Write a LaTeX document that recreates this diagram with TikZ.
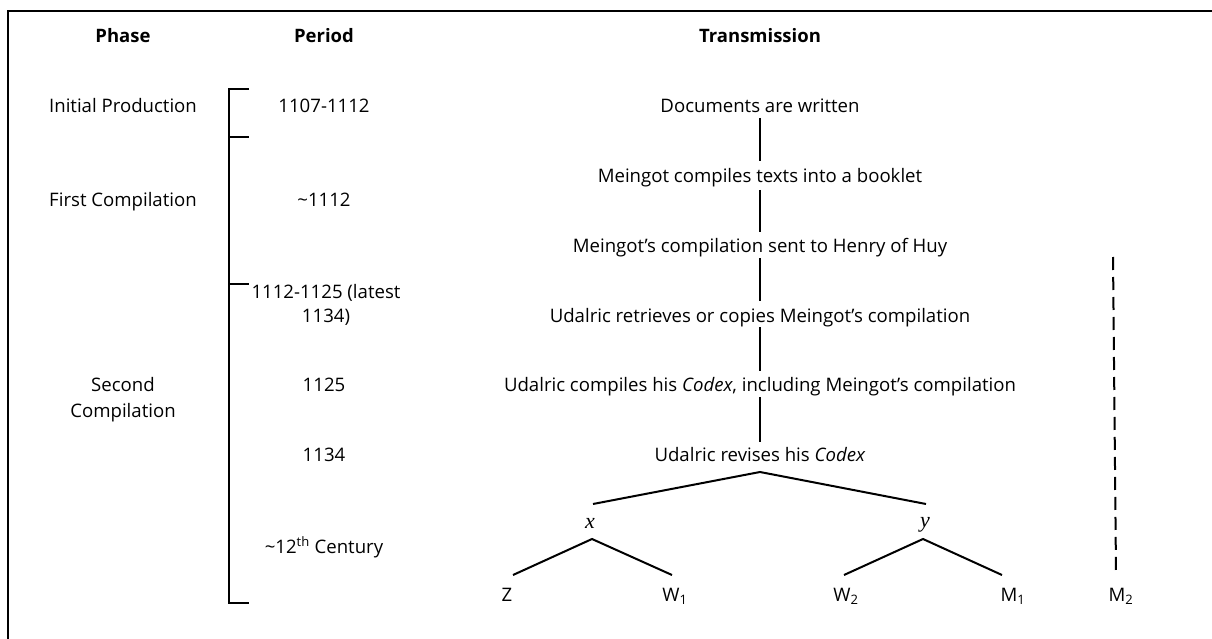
\documentclass[tikz,border=0pt]{standalone}
\usepackage{fontspec}
\setmainfont{Open Sans}
\newfontfamily\varfont{Liberation Serif}
\begin{document}
\begin{tikzpicture}[x=1pt,y=-1pt,
  txt/.style={font=\fontsize{18.6}{24}\selectfont, inner sep=0pt, anchor=base, align=center},
  hdr/.style={font=\fontsize{18.5}{24}\selectfont\bfseries, inner sep=0pt, anchor=base},
  leaf/.style={font=\fontsize{18.6}{24}\selectfont, inner sep=0pt, anchor=base},
  var/.style={font=\varfont\itshape\fontsize{22}{24}\selectfont, inner sep=0pt, anchor=base},
  conn/.style={line width=2pt},
  brk/.style={line width=2pt},
  dashconn/.style={line width=2pt, dash pattern=on 13pt off 7pt}]
\useasboundingbox (0,0) rectangle (1212,639);
% frame (only top and left visible)
\draw[line width=1.9pt] (8,650) -- (8,11) -- (1225,11);

% headers
\node[hdr] (hPhase) at (123,43) {Phase};
\node[hdr] (hPeriod) at (324,43) {Period};
\node[hdr] (hTrans) at (760,43) {Transmission};

% phases
\node[txt] (ph1) at (123,113) {Initial Production};
\node[txt] (ph2) at (123,207) {First Compilation};
\node[txt, font=\fontsize{18.6}{26}\selectfont] (ph3) at (123,417) {Second\\Compilation};

% bracket
\draw[brk] (249,89) -- (229,89) -- (229,603) -- (249,603);
\draw[brk] (229,137) -- (249,137);
\draw[brk] (229,284) -- (249,284);

% periods
\node[txt] (per1) at (324,113) {1107-1112};
\node[txt] (per2) at (324,207) {\textasciitilde 1112};
\node[txt] (per3) at (326,322) {1112-1125 (latest\\1134)};
\node[txt] (per4) at (324,391) {1125};
\node[txt] (per5) at (324,461) {1134};
\node[txt] (per6) at (324,553) {\textasciitilde 12\textsuperscript{th} Century};

% transmission
\node[txt] (t1) at (760,113) {Documents are written};
\node[txt] (t2) at (760,183) {Meingot compiles texts into a booklet};
\node[txt] (t3) at (760,252) {Meingot’s compilation sent to Henry of Huy};
\node[txt] (t4) at (760,322) {Udalric retrieves or copies Meingot’s compilation};
\node[txt] (t5) at (760,391) {Udalric compiles his \textit{Codex}, including Meingot’s compilation};
\node[txt] (t6) at (760,461) {Udalric revises his \textit{Codex}};

\draw[conn] ([yshift=-5pt]t1.base) -- ([yshift=22pt]t2.base);
\draw[conn] ([yshift=-7pt]t2.base) -- ([yshift=20pt]t3.base);
\draw[conn] ([yshift=-6pt]t3.base) -- ([yshift=21pt]t4.base);
\draw[conn] ([yshift=-5pt]t4.base) -- ([yshift=20pt]t5.base);
\draw[conn] ([yshift=-6pt]t5.base) -- ([yshift=19pt]t6.base);

% stemma
\coordinate (apex) at (760,472);
\coordinate (xt) at (593,504);
\coordinate (yt) at (926,504);
\node[var] (x) at (590,528) {x};
\node[var] (y) at (925,527) {y};
\coordinate (xb) at (592,539);
\coordinate (yb) at (923,539);
\coordinate (zt) at (513,575);
\coordinate (w1t) at (672,575);
\coordinate (w2t) at (844,575);
\coordinate (m1t) at (1002,575);

\node[leaf] (Z) at (507,601) {Z};
\node[leaf] (W1) at (675,601) {W\textsubscript{1}};
\node[leaf] (W2) at (846,601) {W\textsubscript{2}};
\node[leaf] (M1) at (1013,601) {M\textsubscript{1}};
\node[leaf] (M2) at (1121,601) {M\textsubscript{2}};

\draw[conn] (xt) -- (apex) -- (yt);
\draw[conn] (zt) -- (xb) -- (w1t);
\draw[conn] (w2t) -- (yb) -- (m1t);

\coordinate (dtop) at (1113,257);
\coordinate (dbot) at (1116,573);
\draw[dashconn] (dtop) -- (dbot);
\end{tikzpicture}
\end{document}
